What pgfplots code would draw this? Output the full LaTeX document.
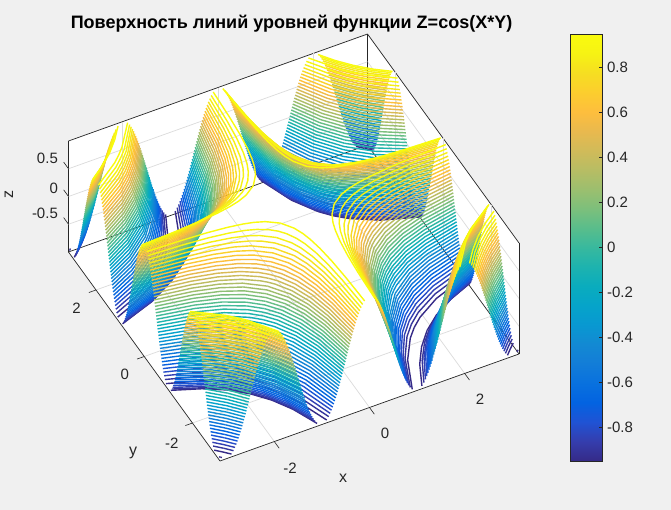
\documentclass[border=0pt]{standalone}
\usepackage{fontspec}
\setmainfont{Liberation Sans}
\usepackage{pgfplots}
\pgfplotsset{compat=1.18}
\begin{filecontents*}[overwrite]{quad.dat}
x y z
3.1416 0.899 -0.9500
2.4 1.177 -0.9500
1.9 1.486 -0.9500
1.68 1.68 -0.9500

3.1416 1.101 -0.9500
2.6 1.330 -0.9500
2.2 1.572 -0.9500
1.86 1.86 -0.9500

3.1416 2.899 -0.9500
3.018 3.018 -0.9500

3.1416 3.101 -0.9500
3.121 3.121 -0.9500

3.1416 0.857 -0.9013
2.4 1.122 -0.9013
1.9 1.417 -0.9013
1.641 1.641 -0.9013

3.1416 1.143 -0.9013
2.6 1.381 -0.9013
2.2 1.632 -0.9013
1.895 1.895 -0.9013

3.1416 2.857 -0.9013
2.996 2.996 -0.9013

3.1416 0.825 -0.8526
2.4 1.080 -0.8526
1.9 1.364 -0.8526
1.61 1.61 -0.8526

3.1416 1.175 -0.8526
2.6 1.420 -0.8526
2.2 1.678 -0.8526
1.921 1.921 -0.8526

3.1416 2.825 -0.8526
2.979 2.979 -0.8526

3.1416 0.797 -0.8038
2.4 1.044 -0.8038
1.9 1.318 -0.8038
1.583 1.583 -0.8038

3.1416 1.203 -0.8038
2.6 1.453 -0.8038
2.2 1.717 -0.8038
1.944 1.944 -0.8038

3.1416 2.797 -0.8038
2.964 2.964 -0.8038

3.1416 0.773 -0.7551
2.4 1.011 -0.7551
1.9 1.277 -0.7551
1.558 1.558 -0.7551

3.1416 1.227 -0.7551
2.6 1.483 -0.7551
2.2 1.753 -0.7551
1.964 1.964 -0.7551

3.1416 2.772 -0.7551
2.951 2.951 -0.7551

3.1416 0.750 -0.7064
2.4 0.982 -0.7064
1.9 1.240 -0.7064
1.535 1.535 -0.7064

3.1416 1.250 -0.7064
2.6 1.510 -0.7064
2.2 1.785 -0.7064
1.982 1.982 -0.7064

3.1416 2.750 -0.7064
2.939 2.939 -0.7064

3.1416 0.729 -0.6577
2.4 0.954 -0.6577
1.9 1.205 -0.6577
1.513 1.513 -0.6577

3.1416 1.271 -0.6577
2.6 1.536 -0.6577
2.2 1.815 -0.6577
1.998 1.998 -0.6577

3.1416 2.729 -0.6577
2.928 2.928 -0.6577

3.1416 0.709 -0.6090
2.4 0.928 -0.6090
1.9 1.172 -0.6090
1.492 1.492 -0.6090

3.1416 1.291 -0.6090
2.6 1.560 -0.6090
2.2 1.844 -0.6090
2.014 2.014 -0.6090

3.1416 2.709 -0.6090
2.917 2.917 -0.6090

3.1416 0.689 -0.5603
2.4 0.903 -0.5603
1.9 1.140 -0.5603
1.472 1.472 -0.5603

3.1416 1.310 -0.5603
2.6 1.583 -0.5603
2.2 1.871 -0.5603
2.029 2.029 -0.5603

3.1416 2.689 -0.5603
2.907 2.907 -0.5603

3.1416 0.671 -0.5115
2.4 0.878 -0.5115
1.9 1.109 -0.5115
1.452 1.452 -0.5115

3.1416 1.329 -0.5115
2.6 1.606 -0.5115
2.2 1.898 -0.5115
2.043 2.043 -0.5115

3.1416 2.671 -0.5115
2.897 2.897 -0.5115

3.1416 0.653 -0.4628
2.4 0.855 -0.4628
1.9 1.080 -0.4628
1.432 1.432 -0.4628

3.1416 1.347 -0.4628
2.6 1.627 -0.4628
2.2 1.923 -0.4628
2.057 2.057 -0.4628

3.1416 2.653 -0.4628
2.887 2.887 -0.4628

3.1416 0.636 -0.4141
2.4 0.833 -0.4141
1.9 1.052 -0.4141
1.414 1.414 -0.4141

3.1416 1.364 -0.4141
2.6 1.648 -0.4141
2.07 2.07 -0.4141

3.1416 2.636 -0.4141
2.878 2.878 -0.4141

3.1416 0.619 -0.3654
2.4 0.810 -0.3654
1.9 1.024 -0.3654
1.5 1.297 -0.3654
1.395 1.395 -0.3654

3.1416 1.381 -0.3654
2.6 1.668 -0.3654
2.083 2.083 -0.3654

3.1416 2.619 -0.3654
2.868 2.868 -0.3654

3.1416 0.603 -0.3167
2.4 0.789 -0.3167
1.9 0.996 -0.3167
1.5 1.262 -0.3167
1.376 1.376 -0.3167

3.1416 1.397 -0.3167
2.6 1.688 -0.3167
2.095 2.095 -0.3167

3.1416 2.602 -0.3167
2.859 2.859 -0.3167

3.1416 0.586 -0.2679
2.4 0.768 -0.2679
1.9 0.969 -0.2679
1.5 1.228 -0.2679
1.357 1.357 -0.2679

3.1416 1.414 -0.2679
2.6 1.708 -0.2679
2.107 2.107 -0.2679

3.1416 2.586 -0.2679
2.85 2.85 -0.2679

3.1416 0.570 -0.2192
2.4 0.747 -0.2192
1.9 0.943 -0.2192
1.5 1.195 -0.2192
1.339 1.339 -0.2192

3.1416 1.430 -0.2192
2.6 1.727 -0.2192
2.119 2.119 -0.2192

3.1416 2.570 -0.2192
2.842 2.842 -0.2192

3.1416 0.554 -0.1705
2.4 0.726 -0.1705
1.9 0.917 -0.1705
1.5 1.161 -0.1705
1.32 1.32 -0.1705

3.1416 1.445 -0.1705
2.6 1.747 -0.1705
2.131 2.131 -0.1705

3.1416 2.554 -0.1705
2.833 2.833 -0.1705

3.1416 0.539 -0.1218
2.4 0.705 -0.1218
1.9 0.891 -0.1218
1.5 1.129 -0.1218
1.301 1.301 -0.1218

3.1416 1.461 -0.1218
2.6 1.765 -0.1218
2.142 2.142 -0.1218

3.1416 2.539 -0.1218
2.824 2.824 -0.1218

3.1416 0.523 -0.0731
2.4 0.685 -0.0731
1.9 0.865 -0.0731
1.5 1.096 -0.0731
1.282 1.282 -0.0731

3.1416 1.477 -0.0731
2.6 1.784 -0.0731
2.154 2.154 -0.0731

3.1416 2.523 -0.0731
2.816 2.816 -0.0731

3.1416 0.508 -0.0244
2.4 0.665 -0.0244
1.9 0.839 -0.0244
1.5 1.063 -0.0244
1.263 1.263 -0.0244

3.1416 1.492 -0.0244
2.6 1.803 -0.0244
2.165 2.165 -0.0244

3.1416 2.508 -0.0244
2.807 2.807 -0.0244

3.1416 0.492 0.0244
2.4 0.644 0.0244
1.9 0.814 0.0244
1.5 1.031 0.0244
1.243 1.243 0.0244

3.1416 1.508 0.0244
2.6 1.822 0.0244
2.176 2.176 0.0244

3.1416 2.492 0.0244
2.798 2.798 0.0244

3.1416 0.477 0.0731
2.4 0.624 0.0731
1.9 0.788 0.0731
1.5 0.999 0.0731
1.224 1.224 0.0731

3.1416 1.523 0.0731
2.6 1.840 0.0731
2.187 2.187 0.0731

3.1416 2.477 0.0731
2.789 2.789 0.0731

3.1416 0.461 0.1218
2.4 0.604 0.1218
1.9 0.763 0.1218
1.5 0.966 0.1218
1.204 1.204 0.1218

3.1416 1.539 0.1218
2.6 1.859 0.1218
2.199 2.199 0.1218

3.1416 2.461 0.1218
2.85 2.713 0.1218
2.781 2.781 0.1218

3.1416 0.446 0.1705
2.4 0.583 0.1705
1.9 0.737 0.1705
1.5 0.933 0.1705
1.183 1.183 0.1705

3.1416 1.554 0.1705
2.6 1.878 0.1705
2.21 2.21 0.1705

3.1416 2.446 0.1705
2.85 2.696 0.1705
2.772 2.772 0.1705

3.1416 0.430 0.2192
2.4 0.563 0.2192
1.9 0.711 0.2192
1.5 0.900 0.2192
1.162 1.162 0.2192

3.1416 1.570 0.2192
2.6 1.897 0.2192
2.221 2.221 0.2192

3.1416 2.430 0.2192
2.85 2.678 0.2192
2.763 2.763 0.2192

3.1416 0.414 0.2679
2.4 0.542 0.2679
1.9 0.684 0.2679
1.5 0.867 0.2679
1.14 1.14 0.2679

3.1416 1.586 0.2679
2.6 1.917 0.2679
2.232 2.232 0.2679

3.1416 2.414 0.2679
2.85 2.661 0.2679
2.754 2.754 0.2679

3.1416 0.398 0.3167
2.4 0.520 0.3167
1.9 0.657 0.3167
1.5 0.833 0.3167
1.118 1.118 0.3167

3.1416 1.602 0.3167
2.6 1.936 0.3167
2.244 2.244 0.3167

3.1416 2.398 0.3167
2.85 2.643 0.3167
2.744 2.744 0.3167

3.1416 0.381 0.3654
2.4 0.499 0.3654
1.9 0.630 0.3654
1.5 0.798 0.3654
1.2 0.998 0.3654
1.094 1.094 0.3654

3.1416 1.619 0.3654
2.6 1.956 0.3654
2.255 2.255 0.3654

3.1416 2.381 0.3654
2.85 2.625 0.3654
2.735 2.735 0.3654

3.1416 0.364 0.4141
2.4 0.477 0.4141
1.9 0.602 0.4141
1.5 0.763 0.4141
1.2 0.953 0.4141
1.07 1.07 0.4141

3.1416 1.636 0.4141
2.6 1.977 0.4141
2.267 2.267 0.4141

3.1416 2.364 0.4141
2.85 2.606 0.4141
2.725 2.725 0.4141

3.1416 0.347 0.4628
2.4 0.454 0.4628
1.9 0.574 0.4628
1.5 0.727 0.4628
1.2 0.908 0.4628
1.044 1.044 0.4628

3.1416 1.653 0.4628
2.6 1.997 0.4628
2.279 2.279 0.4628

3.1416 2.347 0.4628
2.85 2.587 0.4628
2.715 2.715 0.4628

3.1416 0.329 0.5115
2.4 0.431 0.5115
1.9 0.544 0.5115
1.5 0.689 0.5115
1.2 0.862 0.5115
1.017 1.017 0.5115

3.1416 1.671 0.5115
2.6 2.019 0.5115
2.291 2.291 0.5115

3.1416 2.329 0.5115
2.85 2.567 0.5115
2.705 2.705 0.5115

3.1416 0.311 0.5603
2.4 0.407 0.5603
1.9 0.514 0.5603
1.5 0.651 0.5603
1.2 0.813 0.5603
0.988 0.988 0.5603

3.1416 1.689 0.5603
2.6 2.041 0.5603
2.304 2.304 0.5603

3.1416 2.311 0.5603
2.85 2.547 0.5603
2.694 2.694 0.5603

3.1416 0.292 0.6090
2.4 0.382 0.6090
1.9 0.482 0.6090
1.5 0.611 0.6090
1.2 0.763 0.6090
0.957 0.957 0.6090

3.1416 1.708 0.6090
2.6 2.064 0.6090
2.317 2.317 0.6090

3.1416 2.292 0.6090
2.85 2.526 0.6090
2.683 2.683 0.6090

3.1416 0.272 0.6577
2.4 0.355 0.6577
1.9 0.449 0.6577
1.5 0.569 0.6577
1.2 0.711 0.6577
0.924 0.924 0.6577

3.1416 1.728 0.6577
2.6 2.088 0.6577
2.33 2.33 0.6577

3.1416 2.271 0.6577
2.85 2.504 0.6577
2.671 2.671 0.6577

3.1416 0.250 0.7064
2.4 0.328 0.7064
1.9 0.414 0.7064
1.5 0.524 0.7064
1.2 0.655 0.7064
0.887 0.887 0.7064

3.1416 1.750 0.7064
2.6 2.114 0.7064
2.345 2.345 0.7064

3.1416 2.250 0.7064
2.85 2.480 0.7064
2.659 2.659 0.7064

3.1416 0.228 0.7551
2.4 0.298 0.7551
1.9 0.376 0.7551
1.5 0.477 0.7551
1.2 0.596 0.7551
0.846 0.846 0.7551

3.1416 1.772 0.7551
2.6 2.142 0.7551
2.36 2.36 0.7551

3.1416 2.228 0.7551
2.85 2.455 0.7551
2.645 2.645 0.7551

3.1416 0.203 0.8038
2.4 0.265 0.8038
1.9 0.335 0.8038
1.5 0.425 0.8038
1.2 0.531 0.8038
1 0.637 0.8038
0.798 0.798 0.8038

3.1416 1.797 0.8038
2.6 2.172 0.8038
2.376 2.376 0.8038

3.1416 2.203 0.8038
2.85 2.428 0.8038
2.631 2.631 0.8038

3.1416 0.175 0.8526
2.4 0.229 0.8526
1.9 0.289 0.8526
1.5 0.367 0.8526
1.2 0.458 0.8526
1 0.550 0.8526
0.742 0.742 0.8526

3.1416 1.825 0.8526
2.6 2.205 0.8526
2.394 2.394 0.8526

3.1416 2.175 0.8526
2.85 2.398 0.8526
2.614 2.614 0.8526

3.1416 0.143 0.9013
2.4 0.187 0.9013
1.9 0.236 0.9013
1.5 0.299 0.9013
1.2 0.373 0.9013
1 0.448 0.9013
0.8 0.560 0.9013
0.669 0.669 0.9013

3.1416 1.857 0.9013
2.6 2.244 0.9013
2.416 2.416 0.9013

3.1416 2.143 0.9013
2.85 2.362 0.9013
2.594 2.594 0.9013

3.1416 0.101 0.9500
2.4 0.133 0.9500
1.9 0.167 0.9500
1.5 0.212 0.9500
1.2 0.265 0.9500
1 0.318 0.9500
0.8 0.398 0.9500
0.564 0.564 0.9500

3.1416 1.899 0.9500
2.6 2.294 0.9500
2.442 2.442 0.9500

3.1416 2.101 0.9500
2.85 2.316 0.9500
2.569 2.569 0.9500
\end{filecontents*}
\definecolor{figbg}{RGB}{240,240,240}
\definecolor{axdark}{RGB}{38,38,38}
\pgfplotsset{
  colormap={parula}{
    rgb=(0.2081,0.1663,0.5292) rgb=(0.2081,0.2386,0.6771) rgb=(0.1253,0.3242,0.8303)
    rgb=(0.0117,0.3875,0.8820) rgb=(0.0329,0.4430,0.8720) rgb=(0.0723,0.4887,0.8467)
    rgb=(0.0749,0.5375,0.8263) rgb=(0.0343,0.5966,0.8199) rgb=(0.0231,0.6418,0.7913)
    rgb=(0.0384,0.6743,0.7436) rgb=(0.1133,0.7015,0.6859) rgb=(0.2178,0.7250,0.6193)
    rgb=(0.3482,0.7424,0.5473) rgb=(0.4871,0.7491,0.4840) rgb=(0.6099,0.7473,0.4337)
    rgb=(0.7184,0.7411,0.3905) rgb=(0.8185,0.7327,0.3498) rgb=(0.9139,0.7258,0.3063)
    rgb=(0.9938,0.7455,0.2403) rgb=(0.9880,0.8066,0.1794) rgb=(0.9626,0.8705,0.1309)
    rgb=(0.9661,0.9514,0.0755) rgb=(0.9763,0.9831,0.0538)
  }
}
\newcommand\tickfont{\fontsize{15}{18}\selectfont}
% one half of a quadrant is in the file, the others are its mirror images
\newcommand\octant[4]{%
  \addplot3[contour prepared={labels=false}, line width=1.4pt, line join=round]
    table[x expr=#1*\thisrow{#3}, y expr=#2*\thisrow{#4}, z=z] {quad.dat};
}
% tick marks run along the neighbouring axis, as in the 3D box of the original
\newcommand\tickmark[2]{%
  \addplot3[axdark, line width=0.6pt, no marks, forget plot] coordinates {#1 #2};
}
\begin{document}
\begin{tikzpicture}[x=1pt,y=1pt]
\useasboundingbox (0,0) rectangle (671,510);
\fill[figbg] (0,0) rectangle (671,510);
\fill[white] (68.5,258) -- (68.5,369) -- (367.3,475) -- (519,267) -- (519,156) -- (220,49) -- cycle;
\begin{axis}[
  at={(293.75pt,262.5pt)}, anchor=origin,
  x={(47.59pt,17.03pt)}, y={(-24.11pt,33.26pt)}, z={(0pt,55.5pt)},
  xmin=-3.1416, xmax=3.1416, ymin=-3.1416, ymax=3.1416, zmin=-1, zmax=1,
  point meta min=-0.95, point meta max=0.95,
  colormap name=parula,
  xtick={-2,0,2}, ytick={-2,0,2}, ztick={-0.5,0,0.5},
  xticklabels={-2,0,2}, yticklabels={-2,0,2}, zticklabels={-0.5,0,0.5},
  xtick pos=left, ytick pos=left, ztick pos=left,
  grid=major, major grid style={color=black!14, line width=0.7pt},
  tick align=outside, major tick length=7pt,
  tick style={draw=none},
  axis line style={color=axdark, line width=0.7pt},
  tick label style={font=\tickfont, text=axdark},
  xticklabel style={xshift=8pt, yshift=-10pt},
  yticklabel style={xshift=-6pt, yshift=-6pt},
  zticklabel style={xshift=-3pt},
  clip=false,
]
\octant{1}{1}{y}{x}
\octant{1}{1}{x}{y}
\octant{-1}{1}{y}{x}
\octant{1}{-1}{x}{y}
\octant{-1}{1}{x}{y}
\octant{1}{-1}{y}{x}
\octant{-1}{-1}{x}{y}
\octant{-1}{-1}{y}{x}
\tickmark{(-2,-3.1416,-1)}{(-2,-3.3416,-1)}
\tickmark{(0,-3.1416,-1)}{(0,-3.3416,-1)}
\tickmark{(2,-3.1416,-1)}{(2,-3.3416,-1)}
\tickmark{(-3.1416,-2,-1)}{(-3.2916,-2,-1)}
\tickmark{(-3.1416,0,-1)}{(-3.2916,0,-1)}
\tickmark{(-3.1416,2,-1)}{(-3.2916,2,-1)}
\tickmark{(-3.1416,3.1416,-0.5)}{(-3.1416,3.3416,-0.5)}
\tickmark{(-3.1416,3.1416,0)}{(-3.1416,3.3416,0)}
\tickmark{(-3.1416,3.1416,0.5)}{(-3.1416,3.3416,0.5)}
\end{axis}
\begin{axis}[
  at={(570.5pt,49pt)}, anchor=south west, scale only axis, width=32pt, height=427pt,
  xmin=0, xmax=1, ymin=-0.95, ymax=0.95, xtick=\empty,
  ytick={-0.8,-0.6,-0.4,-0.2,0,0.2,0.4,0.6,0.8},
  yticklabels={-0.8,-0.6,-0.4,-0.2,0,0.2,0.4,0.6,0.8},
  ytick pos=right, tick align=inside, major tick length=4pt,
  tick style={color=axdark, line width=0.6pt},
  axis line style={color=axdark, line width=0.7pt},
  tick label style={font=\tickfont, text=axdark},
  yticklabel style={xshift=1pt},
  point meta min=-0.95, point meta max=0.95, colormap name=parula,
  axis on top,
]
\addplot[surf, shader=interp, point meta=y] coordinates {
  (0,-0.95) (1,-0.95)

  (0,0.95) (1,0.95)
};
\end{axis}
\node[font=\fontsize{18}{21}\selectfont\bfseries, text=black] at (291.5,486.5) {Поверхность линий уровней функции Z=cos(X*Y)};
\node[font=\fontsize{16}{19}\selectfont, text=axdark] at (343,32) {x};
\node[font=\fontsize{16}{19}\selectfont, text=axdark] at (133,57) {y};
\node[font=\fontsize{16}{19}\selectfont, text=axdark, rotate=90] at (9,315) {z};
\end{tikzpicture}
\end{document}
